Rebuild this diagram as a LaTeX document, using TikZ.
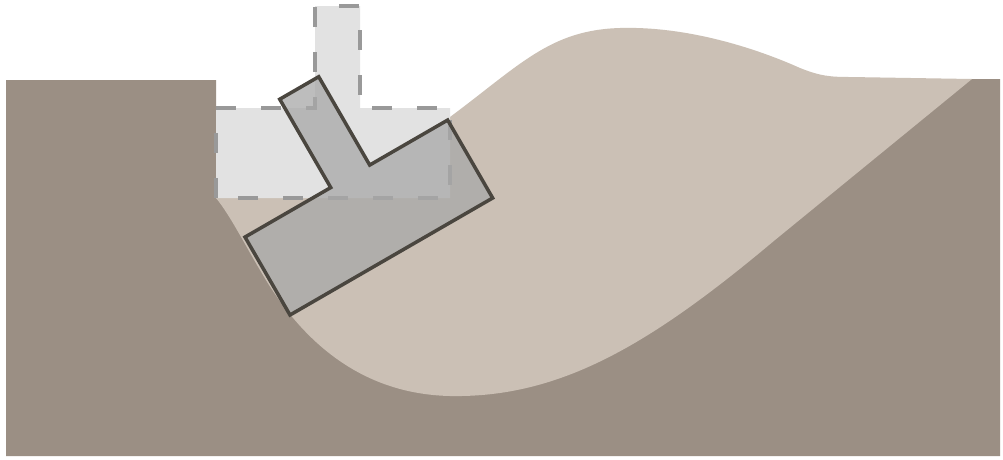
\documentclass[tikz,border=0pt]{standalone}
\usetikzlibrary{calc}
\definecolor{rock}{HTML}{9B8F84}
\definecolor{sand}{HTML}{CBC0B5}
\definecolor{ghostfill}{HTML}{E2E2E2}
\definecolor{ghostline}{HTML}{999999}
\definecolor{blockfill}{HTML}{A8A8A8}
\definecolor{blockline}{HTML}{4A463F}
\tikzset{
  ground/.style={fill=rock, draw=none},
  slide/.style={fill=sand, draw=none},
  ghost/.style={fill=ghostfill, draw=ghostline, line width=3.5pt,
    dash pattern=on 20pt off 25pt},
  block/.style={fill=blockfill, fill opacity=0.75, draw=blockline,
    line width=3.5pt, line join=miter},
}
\begin{document}
\begin{tikzpicture}[x=1pt, y=-1pt]
  % canvas
  \fill[white] (0,0) rectangle (1003,459);
  \useasboundingbox (0,0) rectangle (1003,459);

  % bedrock with the cliff on the left
  \path[ground] (6,80) -- (216,80) -- (216,198) -- (600,198) -- (972,79)
    -- (1000,79) -- (1000,456) -- (6,456) -- cycle;

  % displaced soil mass
  \path[slide] (216,198) -- (450,117)
    .. controls (520,65) and (550,30) .. (620,28)
    .. controls (690,26) and (760,50) .. (800,68)
    .. controls (820,76) and (830,77) .. (850,77)
    -- (972,79) -- (775,240)
    .. controls (650,345) and (560,398) .. (450,396)
    .. controls (360,394) and (300,340) .. (260,270)
    .. controls (245,245) and (230,215) .. (216,198) -- cycle;

  % original position of the T-shaped wall
  \begin{scope}[shift={(216,198)}]
    \draw[ghost] (0,0) -- (0,-90) -- (99,-90) -- (99,-192) -- (144,-192)
      -- (144,-90) -- (234,-90) -- (234,0) -- cycle;
  \end{scope}

  % tilted wall after the slide
  \begin{scope}[shift={(290,315)}, rotate=30]
    \draw[block] (0,0) -- (0,-90) -- (99,-90) -- (99,-192) -- (144,-192)
      -- (144,-90) -- (234,-90) -- (234,0) -- cycle;
  \end{scope}
\end{tikzpicture}
\end{document}
